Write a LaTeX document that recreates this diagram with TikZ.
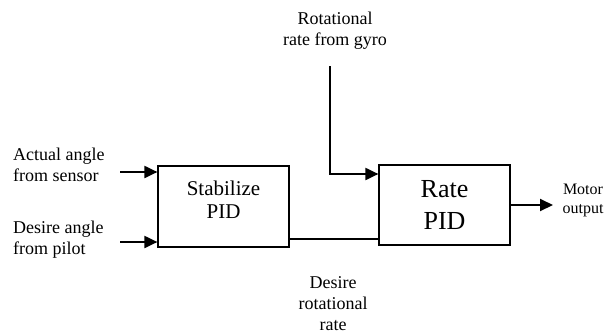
\documentclass[tikz,border=0pt]{standalone}
\usepackage{fontspec}
\setmainfont{Liberation Serif}
\usetikzlibrary{arrows.meta}

\begin{document}
\begin{tikzpicture}[x=1pt,y=-1pt,
  block/.style={draw,line width=1.2pt,minimum width=131pt,minimum height=81pt,
    align=center,font=\fontsize{21}{23}\selectfont},
  lbl/.style={align=center,inner sep=0pt,font=\fontsize{18}{21}\selectfont},
  wire/.style={line width=2pt},
  arr/.style={wire,-{Triangle[length=13pt,width=12pt]}}]

\useasboundingbox (0,0) rectangle (605,335);

% blocks
\node[block,text depth=13pt] (stab) at (223.5,206.5) {Stabilize\\PID};
\node[block,minimum height=80pt,font=\fontsize{26}{32}\selectfont] (rate) at (444.5,205) {Rate\\PID};

% labels
\node[lbl,align=left,anchor=west] (actual) at (13,165) {Actual angle\\from sensor};
\node[lbl,align=left,anchor=west] (pilot) at (13,240) {Desire angle\\from pilot};
\node[lbl] (gyro) at (335,31) {Rotational\\rate from gyro};
\node[lbl] (desrate) at (333,304) {Desire\\rotational\\rate};
\node[lbl,font=\fontsize{16}{19}\selectfont] (motor) at (583,200) {Motor\\output};

% connectors
\coordinate (a1) at (120,172);
\coordinate (a2) at (120,242);
\coordinate (g1) at (330,66);
\coordinate (g2) at (330,174);
\coordinate (m1) at (239,239);
\coordinate (out) at (553,205);
\draw[arr] (a1) -- (a1 -| stab.west);
\draw[arr] (a2) -- (a2 -| stab.west);
\draw[arr] (g1) -- (g2) -- (g2 -| rate.west);
\draw[wire] (m1 -| stab.east) -- (m1 -| rate.west);
\draw[arr] (out -| rate.east) -- (out);
\end{tikzpicture}
\end{document}
